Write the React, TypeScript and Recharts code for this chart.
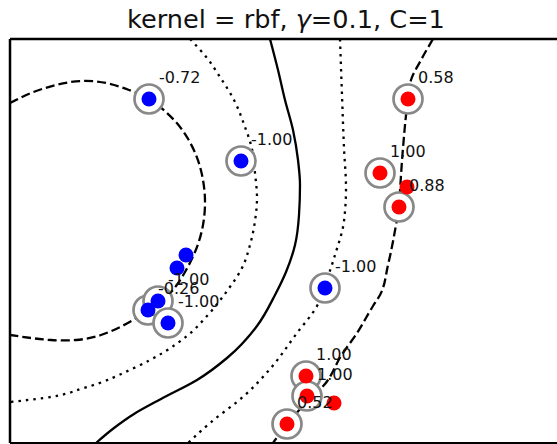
import {
  ComposedChart,
  Line,
  Scatter,
  XAxis,
  YAxis,
  ReferenceLine,
} from "recharts";

// feature-space window
const X_MAX = 5.52;
const Y_MAX = 4.04;

// support vectors and their dual coefficients (sign gives the class)
const svX = [1.39, 2.31, 3.15, 1.38, 1.48, 1.58, 3.98, 3.7, 3.89, 2.96, 2.97, 2.77];
const svY = [3.44, 2.82, 1.55, 1.33, 1.42, 1.2, 3.44, 2.7, 2.36, 0.67, 0.47, 0.19];
const dualCoef = [-0.72, -1, -1, -0.26, -1, -1, 0.58, 1, 0.88, 1, 1, 0.52];

// remaining training points
const ptX = [1.76, 1.67, 3.97, 3.24];
const ptY = [1.88, 1.75, 2.56, 0.4];
const ptClass = [-1, -1, 1, 1];

// decision function contours
const negMarginX = [0, 0.21, 0.46, 0.71, 0.96, 1.19, 1.39, 1.57, 1.73, 1.86, 1.93, 1.95, 1.92, 1.85, 1.75, 1.62, 1.48, 1.36, 1.16, 0.91, 0.66, 0.41, 0.21, 0];
const negMarginY = [3.4, 3.5, 3.58, 3.62, 3.6, 3.53, 3.44, 3.3, 3.12, 2.88, 2.63, 2.38, 2.13, 1.91, 1.71, 1.52, 1.4, 1.31, 1.19, 1.08, 1.03, 1.03, 1.05, 1.08];

const negHalfX = [1.8, 1.97, 2.1, 2.24, 2.35, 2.41, 2.45, 2.47, 2.45, 2.4, 2.32, 2.17, 1.97, 1.77, 1.24, 0.74, 0.34, 0];
const negHalfY = [4.04, 3.85, 3.66, 3.43, 3.16, 2.98, 2.7, 2.45, 2.22, 1.98, 1.75, 1.52, 1.27, 1.07, 0.75, 0.55, 0.45, 0.41];

const boundaryX = [2.6, 2.68, 2.75, 2.83, 2.88, 2.9, 2.89, 2.85, 2.76, 2.65, 2.47, 2.17, 1.87, 1.51, 1.24, 1.04, 0.86];
const boundaryY = [4.04, 3.73, 3.43, 3.13, 2.83, 2.58, 2.28, 1.98, 1.71, 1.48, 1.17, 0.85, 0.63, 0.44, 0.29, 0.15, 0];

const posHalfX = [3.3, 3.32, 3.34, 3.36, 3.34, 3.25, 3.15, 3.07, 2.87, 2.6, 2.34, 2.0, 1.78];
const posHalfY = [4.04, 3.48, 2.95, 2.55, 2.22, 1.88, 1.58, 1.37, 1.1, 0.74, 0.47, 0.2, 0];

const posMarginX = [4.23, 4.11, 4.01, 3.98, 3.93, 3.9, 3.89, 3.86, 3.78, 3.7, 3.63, 3.47, 3.31, 3.15, 2.96, 2.77, 2.63];
const posMarginY = [4.04, 3.83, 3.63, 3.44, 2.95, 2.52, 2.36, 2.18, 1.78, 1.48, 1.37, 1.1, 0.87, 0.59, 0.4, 0.19, 0];

const toPoints = (xs: number[], ys: number[]) => xs.map((x, i) => ({ x, y: ys[i] }));

const supportVectors = svX.map((x, i) => ({
  x,
  y: svY[i],
  label: dualCoef[i].toFixed(2),
  color: dualCoef[i] < 0 ? "#0000ff" : "#ff0000",
}));
const points = [
  ...supportVectors,
  ...ptX.map((x, i) => ({ x, y: ptY[i], color: ptClass[i] < 0 ? "#0000ff" : "#ff0000" })),
];

// the -1 contour is a closed-ish loop, the others run top to bottom
const contours = [
  { key: "m1", data: toPoints(negMarginX, negMarginY), dash: "9 4", curve: "natural" },
  { key: "mh", data: toPoints(negHalfX, negHalfY), dash: "2.5 5", curve: "monotoneY" },
  { key: "zero", data: toPoints(boundaryX, boundaryY), dash: undefined, curve: "monotoneY" },
  { key: "ph", data: toPoints(posHalfX, posHalfY), dash: "2.5 5", curve: "monotoneY" },
  { key: "p1", data: toPoints(posMarginX, posMarginY), dash: "9 4", curve: "monotoneY" },
];

const Ring = (props: any) => (
  <circle cx={props.cx} cy={props.cy} r={14.5} fill="#ffffff" stroke="#888888" strokeWidth={2.7} />
);

const Dot = (props: any) => (
  <circle cx={props.cx} cy={props.cy} r={7.5} fill={props.payload.color} />
);

const CoefText = (props: any) => (
  <text
    x={props.cx + 10}
    y={props.cy - 16}
    fontSize={16}
    fontFamily="DejaVu Sans"
    fill="#111111"
  >
    {props.payload.label}
  </text>
);

export default function App() {
  return (
    <div
      style={{
        position: "absolute",
        left: 0,
        top: 0,
        width: 557,
        height: 444,
        overflow: "hidden",
        background: "#ffffff",
      }}
    >
      <div
        style={{
          position: "absolute",
          left: 0,
          top: 7,
          width: 572,
          textAlign: "center",
          fontFamily: "DejaVu Sans",
          fontSize: 25.6,
          lineHeight: "25px",
          color: "#111111",
          whiteSpace: "nowrap",
        }}
      >
        kernel = rbf, <span style={{ fontStyle: "italic" }}>γ</span>=0.1, C=1
      </div>
      <ComposedChart
        width={572}
        height={444}
        margin={{ top: 39, right: 10, bottom: 1, left: 10 }}
      >
        <XAxis type="number" dataKey="x" domain={[0, X_MAX]} hide allowDataOverflow />
        <YAxis type="number" dataKey="y" domain={[0, Y_MAX]} hide allowDataOverflow />
        {contours.map((c) => (
          <Line
            key={c.key}
            data={c.data}
            dataKey="y"
            type={c.curve as any}
            stroke="#000000"
            strokeWidth={2.3}
            strokeDasharray={c.dash}
            dot={false}
            activeDot={false}
            isAnimationActive={false}
          />
        ))}
        <Scatter data={supportVectors} dataKey="y" shape={Ring} isAnimationActive={false} />
        <Scatter data={points} dataKey="y" shape={Dot} isAnimationActive={false} />
        <Scatter data={supportVectors} dataKey="y" shape={CoefText} isAnimationActive={false} />
        <ReferenceLine x={0} stroke="#000000" strokeWidth={2.5} />
        <ReferenceLine y={Y_MAX} stroke="#000000" strokeWidth={2.5} />
        <ReferenceLine y={0} stroke="#000000" strokeWidth={2} />
      </ComposedChart>
    </div>
  );
}
